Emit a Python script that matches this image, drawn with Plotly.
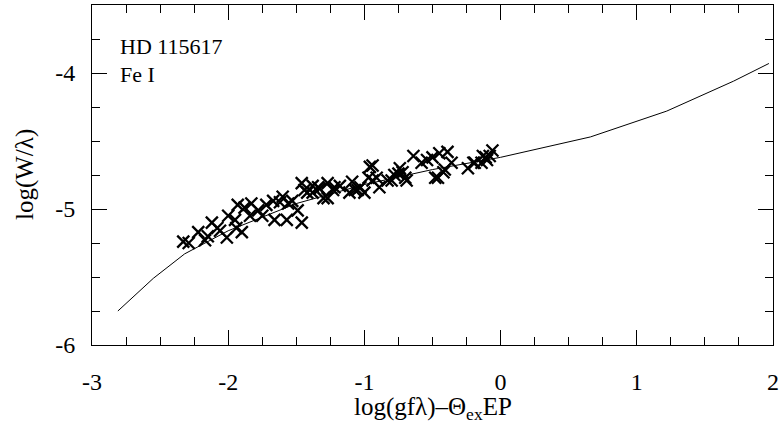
import plotly.graph_objects as go

# Theoretical curve of growth
curve_x = [-2.81, -2.55, -2.32, -2.0, -1.5, -1.0, -0.5, 0.0, 0.66, 0.95, 1.22, 1.71, 1.97]
curve_y = [-5.75, -5.51, -5.33, -5.16, -4.96, -4.82, -4.71, -4.62, -4.47, -4.37, -4.28, -4.06, -3.93]

# Observed Fe I lines
obs_x = [-2.33, -2.29, -2.22, -2.17, -2.15, -2.12, -2.08, -2.06, -2.01, -2.00,
         -1.95, -1.94, -1.93, -1.90, -1.88, -1.84, -1.83, -1.78, -1.75, -1.72,
         -1.67, -1.66, -1.62, -1.60, -1.56, -1.57, -1.53, -1.49, -1.46,
         -1.46, -1.44, -1.42, -1.38, -1.38, -1.34, -1.33, -1.30, -1.27, -1.27,
         -1.23, -1.22, -1.18, -1.11, -1.09, -1.07, -1.05, -1.03, -1.00, -0.97,
         -0.96, -0.94, -0.94, -0.91, -0.89, -0.83, -0.80, -0.78, -0.75, -0.74,
         -0.72, -0.70, -0.69, -0.64, -0.58, -0.54, -0.50, -0.48, -0.46, -0.45,
         -0.42, -0.41, -0.39, -0.36, -0.24, -0.20, -0.19, -0.14, -0.13, -0.11,
         -0.10, -0.08, -0.06]
obs_y = [-5.24, -5.25, -5.17, -5.23, -5.20, -5.10, -5.14, -5.16, -5.21, -5.05,
         -5.08, -5.14, -4.97, -5.17, -4.99, -5.05, -4.96, -5.01, -5.05, -4.97,
         -4.94, -5.08, -4.95, -4.91, -4.96, -5.08, -4.94, -5.01, -5.10,
         -4.81, -4.86, -4.88, -4.88, -4.83, -4.84, -4.85, -4.92, -4.81, -4.92,
         -4.86, -4.84, -4.83, -4.88, -4.80, -4.86, -4.86, -4.84, -4.88, -4.77,
         -4.69, -4.79, -4.68, -4.77, -4.84, -4.79, -4.79, -4.75, -4.74, -4.70,
         -4.73, -4.77, -4.79, -4.61, -4.66, -4.64, -4.62, -4.77, -4.77, -4.59,
         -4.73, -4.71, -4.58, -4.66, -4.70, -4.66, -4.66, -4.66, -4.61, -4.62,
         -4.64, -4.61, -4.57]

x_ticks = [-3, -2, -1, 0, 1, 2]
y_ticks = [-6, -5, -4]

FONT = "Liberation Serif"
TICK_FS = 24
TITLE_FS = 25
NOTE_FS = 22

fig = go.Figure()
fig.add_trace(go.Scatter(x=curve_x, y=curve_y, mode="lines",
                         line=dict(color="black", width=1), showlegend=False))
fig.add_trace(go.Scatter(x=obs_x, y=obs_y, mode="markers",
                         marker=dict(symbol="x-thin-open", size=12, color="black",
                                     line=dict(color="black", width=2.3)),
                         showlegend=False))

axis_common = dict(showline=True, linecolor="black", linewidth=1, mirror="ticks",
                   ticks="inside", ticklen=15, tickcolor="black", tickwidth=1,
                   showgrid=False, zeroline=False,
                   tickfont=dict(family=FONT, size=TICK_FS, color="black"),
                   minor=dict(ticks="inside", ticklen=8, dtick=0.25,
                              tickcolor="black", tickwidth=1, showgrid=False))

fig.update_xaxes(range=[-3, 2], tickvals=x_ticks, ticktext=[str(v) for v in x_ticks],
                 ticklabelstandoff=15, **axis_common)
fig.update_yaxes(range=[-6, -3.5], tickvals=y_ticks, ticktext=[str(v) for v in y_ticks],
                 ticklabelstandoff=11, **axis_common)

fig.update_layout(
    width=784, height=439,
    margin=dict(l=92, r=11, t=5, b=94),
    plot_bgcolor="white", paper_bgcolor="white",
    font=dict(family=FONT, size=TICK_FS, color="black"),
    annotations=[
        dict(text="log(gfλ)–Θ<sub>ex</sub>EP", xref="paper", yref="paper",
             x=0.5, y=0, xanchor="center", yanchor="middle", yshift=-63,
             showarrow=False, font=dict(family=FONT, size=TITLE_FS)),
        dict(text="log(W/λ)", xref="paper", yref="paper",
             x=0, y=0.5, xanchor="center", yanchor="middle", xshift=-67,
             textangle=-90, showarrow=False, font=dict(family=FONT, size=TITLE_FS)),
        dict(text="HD 115617", xref="paper", yref="paper",
             x=0, y=1, xanchor="left", yanchor="middle", xshift=26, yshift=-41,
             showarrow=False, font=dict(family=FONT, size=NOTE_FS)),
        dict(text="Fe I", xref="paper", yref="paper",
             x=0, y=1, xanchor="left", yanchor="middle", xshift=26, yshift=-69,
             showarrow=False, font=dict(family=FONT, size=NOTE_FS)),
    ],
)

fig.write_html("out.html")
